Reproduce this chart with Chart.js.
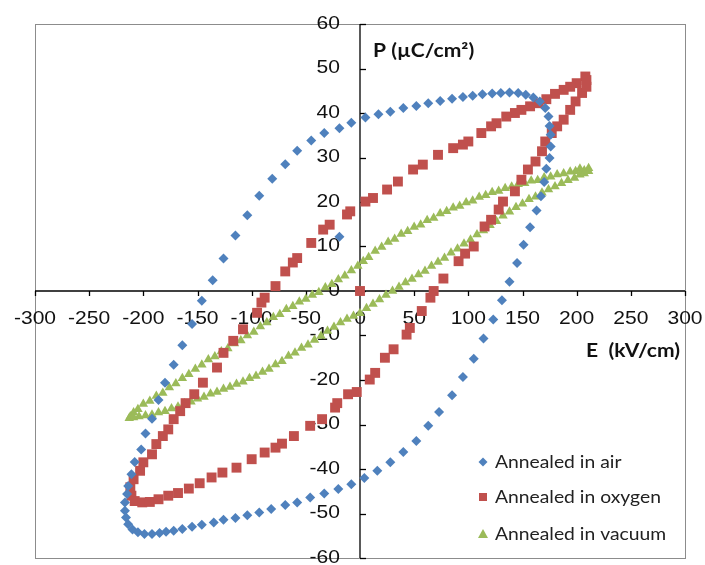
<!DOCTYPE html>
<html>
<head>
<meta charset="utf-8">
<script src="https://cdn.jsdelivr.net/npm/chart.js@4.4.1/dist/chart.umd.min.js"></script>
<style>
  html, body { margin: 0; padding: 0; background: #fff; }
</style>
</head>
<body>
<canvas id="peChart" width="705" height="565"></canvas>
<script>
// axis ticks
const xTicks = [-300, -250, -200, -150, -100, -50, 0, 50, 100, 150, 200, 250, 300];
const yTicks = [-60, -50, -40, -30, -20, -10, 0, 10, 20, 30, 40, 50, 60];

const seriesNames = ["Annealed in air", "Annealed in oxygen", "Annealed in vacuum"];
const seriesColors = ["#4F81BD", "#C0504D", "#9BBB59"];

// [E (kV/cm), P (uC/cm2)]
const airPoints = [
  [-19,12.2],[166,42.6],[160,43.5],[153,44.1],[146,44.5],[138,44.6],[130,44.5],[122,44.4],[113,44.2],
  [104,43.9],[95,43.6],[85,43.2],[74,42.7],[63,42.2],[52,41.6],[40,41.1],[28,40.3],[17,39.7],[5,39.0],
  [-8,37.8],[-19,36.6],[-33,35.5],[-45,33.8],[-58,31.5],[-69,28.5],[-81,25.2],[-93,21.4],[-104,17.0],
  [-115,12.5],[-126,7.3],[-136,2.4],[-146,-2.2],[-155,-7.4],[-164,-12.2],[-172,-16.6],[-180,-20.6],
  [-186,-24.5],[-192,-28.7],[-198,-32.0],[-202,-35.6],[-208,-38.4],[-211,-41.2],[-214,-43.8],[-215,-45.6],
  [-217,-47.5],[-217,-49.4],[-216,-50.9],[-214,-52.4],[-210,-53.6],[-205,-54.2],[-199,-54.6],[-192,-54.6],
  [-185,-54.4],[-179,-54.1],[-172,-53.9],[-164,-53.5],[-155,-53.0],[-146,-52.5],[-135,-52.0],[-126,-51.4],
  [-115,-51.0],[-104,-50.4],[-93,-49.8],[-82,-49.0],[-69,-48.1],[-58,-47.5],[-46,-46.4],[-33,-45.5],
  [-20,-44.5],[-8,-43.4],[4,-42.0],[16,-40.4],[28,-38.5],[40,-36.2],[52,-33.7],[63,-30.3],[73,-27.2],
  [85,-23.4],[95,-19.3],[105,-15.2],[114,-10.7],[123,-6.4],[131,-2.1],[138,2.1],[145,6.3],[151,10.4],
  [157,14.3],[163,18.1],[167,21.3],[170,24.5],[172,27.5],[175,29.9],[176,32.5],[176,35.1],[175,37.1],
  [174,39.2],[171,41.1]
];

const oxygenPoints = [
  [0,0],[208,48.2],[200,46.7],[194,45.9],[188,45.2],[180,44.3],[172,43.1],[165,42.2],[157,41.5],[149,40.7],
  [143,40.0],[135,39.2],[126,37.7],[121,37.0],[112,35.5],[100,33.6],[95,32.9],[86,32.1],[72,30.6],[58,28.4],
  [49,27.3],[35,24.6],[25,22.8],[12,20.9],[5,20.1],[-9,17.9],[-12,17.2],[-28,14.9],[-34,13.8],[-45,10.8],
  [-58,7.4],[-62,6.4],[-69,4.4],[-78,1.1],[-88,-1.5],[-91,-2.6],[-95,-4.9],[-108,-8.6],[-117,-11.2],
  [-126,-13.9],[-132,-17.2],[-145,-20.6],[-153,-23.2],[-161,-25.2],[-166,-27.0],[-172,-28.8],[-177,-31.1],
  [-182,-32.6],[-188,-34.4],[-192,-36.7],[-200,-38.5],[-203,-40.4],[-209,-42.3],[-212,-44.1],[-211,-46.0],
  [-208,-47.2],[-201,-47.5],[-194,-47.4],[-186,-46.8],[-177,-46.0],[-168,-45.4],[-158,-44.4],[-148,-43.2],
  [-137,-41.9],[-127,-40.8],[-114,-39.7],[-100,-37.8],[-88,-36.3],[-78,-35.2],[-72,-34.3],[-61,-32.6],
  [-46,-30.3],[-35,-28.8],[-23,-26.2],[-21,-25.2],[-11,-23.2],[-3,-22.7],[9,-19.9],[14,-18.4],[23,-15.0],
  [31,-13.1],[43,-9.8],[46,-8.3],[57,-4.5],[65,-1.5],[68,0.0],[77,2.8],[91,6.7],[97,8.4],[105,10.0],
  [115,14.5],[121,16.0],[128,18.3],[132,20.1],[143,22.4],[149,25.0],[155,27.3],[162,29.1],[168,31.4],
  [171,33.6],[177,35.5],[182,37.0],[188,38.5],[194,40.7],[199,42.6],[205,44.5],[209,45.9],[209,47.4]
];

const vacuumPoints = [
  [0,0],
  [211,27.6],[207,27.1],[203,27.5],[199,26.9],[194,26.8],[188,26.4],[182,26.2],[176,25.7],[170,25.5],
  [164,24.9],[158,24.8],[152,24.2],[146,24.0],[140,23.4],[134,23.1],[128,22.5],[122,22.2],[116,21.5],
  [110,21.1],[104,20.3],[98,19.9],[92,19.1],[86,18.7],[80,17.9],[74,17.4],[68,16.4],[62,15.9],[56,14.9],
  [50,14.4],[44,13.4],[38,12.8],[32,11.7],[26,11.0],[20,9.9],[14,9.0],[8,7.6],[3,6.7],[-2,5.6],[-8,4.6],
  [-14,3.4],[-20,2.6],[-26,1.5],[-32,0.8],[-38,-0.3],[-44,-0.9],[-50,-1.8],[-56,-2.4],[-62,-3.4],[-68,-4.1],
  [-74,-5.2],[-80,-5.9],[-86,-7.1],[-92,-8.0],[-98,-9.2],[-104,-10.0],[-110,-11.1],[-116,-11.8],
  [-122,-12.9],[-128,-13.6],[-134,-14.7],[-140,-15.4],[-146,-16.6],[-152,-17.5],[-158,-18.7],[-164,-19.6],
  [-170,-20.8],[-176,-21.7],[-182,-22.9],[-188,-23.6],[-194,-24.7],[-200,-25.4],[-205,-26.6],[-209,-27.3],
  [-212,-28.2],
  [-213,-28.6],[-209,-28.4],[-204,-28.2],[-198,-28.0],[-192,-27.8],[-186,-27.3],[-180,-27.0],[-174,-26.4],
  [-168,-26.0],[-162,-25.3],[-156,-24.9],[-150,-24.2],[-144,-23.8],[-138,-23.1],[-132,-22.7],[-126,-22.0],
  [-120,-21.6],[-114,-20.9],[-108,-20.4],[-102,-19.6],[-96,-19.1],[-90,-18.2],[-84,-17.5],[-78,-16.5],
  [-72,-15.8],[-66,-14.6],[-60,-13.9],[-54,-12.8],[-48,-12.1],[-42,-11.0],[-36,-10.1],[-30,-9.0],
  [-24,-8.1],[-18,-7.1],[-12,-6.3],[-6,-5.6],[0,-5.0],[6,-3.9],[12,-2.9],[18,-1.9],[24,-0.9],[30,0.0],
  [36,0.9],[42,1.9],[48,2.7],[54,3.7],[60,4.5],[66,5.6],[72,6.5],[78,7.4],[84,8.6],[90,9.5],[96,10.6],
  [102,11.5],[108,12.7],[114,13.6],[120,14.8],[126,15.7],[132,16.9],[138,17.8],[144,18.8],[150,19.6],
  [156,20.6],[162,21.2],[168,22.1],[174,22.8],[180,23.5],[186,24.2],[192,24.9],[198,25.4],[203,26.1],
  [207,26.4],[211,26.9]
];

const toXY = pts => pts.map(p => ({ x: p[0], y: p[1] }));

function line(ctx, x1, y1, x2, y2) {
  ctx.beginPath();
  ctx.moveTo(x1, y1);
  ctx.lineTo(x2, y2);
  ctx.stroke();
}

// text is a little wide in the original, so stretch it horizontally
function stretchedText(ctx, text, x, y, align) {
  const sx = 1.17;
  ctx.save();
  ctx.translate(x, y);
  ctx.scale(sx, 1);
  ctx.textAlign = align;
  ctx.textBaseline = "middle";
  ctx.fillText(text, 0, 0);
  ctx.restore();
}

// box, crossing axes, ticks, tick labels and titles
const crossAxes = {
  id: "crossAxes",
  beforeDatasetsDraw(chart) {
    const { ctx, chartArea: a } = chart;
    const xs = chart.scales.x, ys = chart.scales.y;
    const x0 = xs.getPixelForValue(0);
    const y0 = ys.getPixelForValue(0);
    ctx.save();
    ctx.strokeStyle = "#8c8c8c";
    ctx.lineWidth = 1;
    ctx.strokeRect(a.left + 0.5, a.top + 0.5, a.right - a.left, a.bottom - a.top);

    ctx.strokeStyle = "#000";
    ctx.lineWidth = 1.3;
    line(ctx, a.left, y0, a.right, y0);
    line(ctx, x0, a.top, x0, a.bottom);
    xTicks.forEach(v => {
      const px = Math.round(xs.getPixelForValue(v)) + 0.5;
      line(ctx, px, y0, px, y0 + 5);
    });
    yTicks.forEach(v => {
      const py = Math.round(ys.getPixelForValue(v)) + 0.5;
      line(ctx, x0, py, x0 + 6, py);
    });

    ctx.fillStyle = "#111";
    ctx.font = '18px "Liberation Sans", Arial, sans-serif';
    xTicks.forEach(v => stretchedText(ctx, String(v), xs.getPixelForValue(v), y0 + 28, "center"));
    yTicks.forEach(v => stretchedText(ctx, String(v), x0 - 20, ys.getPixelForValue(v), "right"));

    ctx.font = 'bold 18px Lato, "Open Sans", sans-serif';
    stretchedText(ctx, "P (\u00B5C/cm\u00B2)", x0 + 13, a.top + 27, "left");
    stretchedText(ctx, "E  (kV/cm)", a.right - 5, y0 + 60, "right");
    ctx.restore();
  }
};

// legend in the lower right corner of the plot
const cornerLegend = {
  id: "cornerLegend",
  afterDraw(chart) {
    const { ctx, chartArea: a } = chart;
    const rows = [a.bottom - 96, a.bottom - 61, a.bottom - 24];
    const mx = a.right - 202;
    ctx.save();
    ctx.font = '16.5px Lato, "Open Sans", sans-serif';
    rows.forEach((ry, i) => {
      ctx.fillStyle = seriesColors[i];
      ctx.beginPath();
      if (i === 0) {
        ctx.moveTo(mx, ry - 4.5); ctx.lineTo(mx + 4.5, ry); ctx.lineTo(mx, ry + 4.5); ctx.lineTo(mx - 4.5, ry);
      } else if (i === 1) {
        ctx.rect(mx - 4, ry - 4, 8, 8);
      } else {
        ctx.moveTo(mx, ry - 5); ctx.lineTo(mx + 5, ry + 4); ctx.lineTo(mx - 5, ry + 4);
      }
      ctx.closePath();
      ctx.fill();
      ctx.fillStyle = "#222";
      stretchedText(ctx, seriesNames[i], mx + 12, ry + 1, "left");
    });
    ctx.restore();
  }
};

new Chart(document.getElementById("peChart"), {
  type: "scatter",
  data: {
    datasets: [
      {
        label: seriesNames[0],
        data: toXY(airPoints),
        pointStyle: "rectRot",
        pointRadius: 5,
        backgroundColor: seriesColors[0],
        borderColor: seriesColors[0],
        borderWidth: 0
      },
      {
        label: seriesNames[1],
        data: toXY(oxygenPoints),
        pointStyle: "rect",
        pointRadius: 7,
        backgroundColor: seriesColors[1],
        borderColor: seriesColors[1],
        borderWidth: 0
      },
      {
        label: seriesNames[2],
        data: toXY(vacuumPoints),
        pointStyle: "triangle",
        pointRadius: 5.5,
        backgroundColor: seriesColors[2],
        borderColor: seriesColors[2],
        borderWidth: 0
      }
    ]
  },
  options: {
    responsive: false,
    animation: false,
    layout: { padding: { left: 35, right: 20, top: 24, bottom: 6 } },
    plugins: {
      legend: { display: false },
      tooltip: { enabled: false }
    },
    scales: {
      x: { type: "linear", min: -300, max: 300, display: false },
      y: { type: "linear", min: -60, max: 60, display: false }
    }
  },
  plugins: [crossAxes, cornerLegend]
});
</script>
</body>
</html>
